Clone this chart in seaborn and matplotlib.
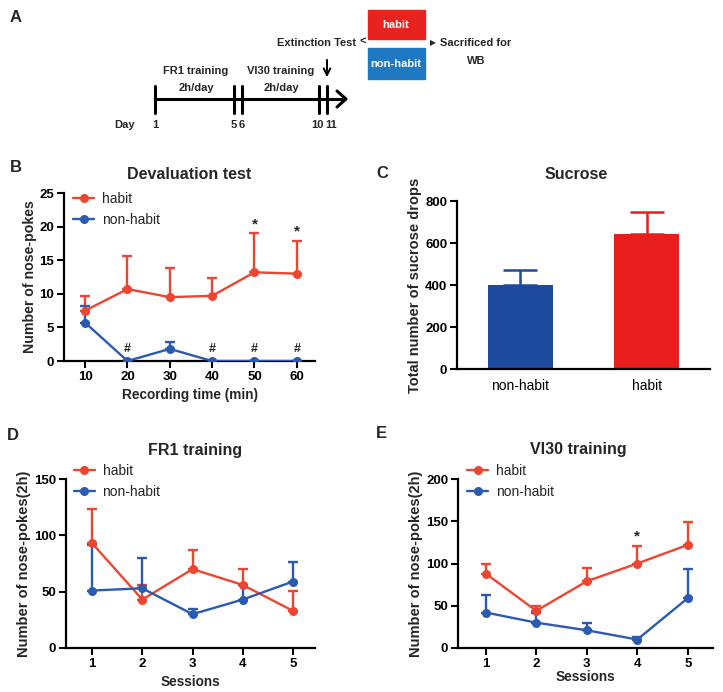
import numpy as np
import pandas as pd
import matplotlib
matplotlib.use('Agg')
import matplotlib.pyplot as plt
from matplotlib import font_manager
import seaborn as sns

# --- data ---
groups = ['habit', 'non-habit']

# B: devaluation test
rec_time = [10, 20, 30, 40, 50, 60]
dev_habit = [7.5, 10.7, 9.5, 9.7, 13.2, 13.0]
dev_habit_err = [2.2, 4.9, 4.3, 2.6, 5.8, 4.9]
dev_non = [5.7, 0.0, 1.8, 0.0, 0.0, 0.0]
dev_non_err = [2.5, 0.0, 1.1, 0.0, 0.0, 0.0]
dev_star = [50, 60]
dev_hash = [20, 40, 50, 60]

# C: sucrose
sucrose_groups = ['non-habit', 'habit']
sucrose_mean = [400, 642]
sucrose_err = [71, 108]

# D: FR1 training
sessions = [1, 2, 3, 4, 5]
fr1_habit = [93, 43, 70, 56, 33]
fr1_habit_err = [30, 13, 17, 14, 18]
fr1_non = [51, 53, 30, 43, 59]
fr1_non_err = [40, 27, 5, 13, 17]

# E: VI30 training
vi_habit = [88, 44, 79, 100, 122]
vi_habit_err = [11, 6, 16, 21, 27]
vi_non = [42, 30, 21, 10, 59]
vi_non_err = [21, 12, 8, 3, 34]
vi_star = [4]

# A: timeline
day_labels = ['1', '5', '6', '10', '11']
day_x = [155, 234, 242, 319, 327]

RED = '#EC4530'
BLUE = '#2A5BB0'
BAR_COLORS = ['#1E4A9E', '#E81D1D']

sns.set_theme(style='ticks')
plt.rcParams['font.family'] = ['Liberation Sans', 'DejaVu Sans']
plt.rcParams['font.weight'] = 'bold'
plt.rcParams['axes.labelweight'] = 'bold'
plt.rcParams['axes.titleweight'] = 'bold'

# narrow font for the schematic, if there is one
try:
    font_manager.findfont(font_manager.FontProperties(family='Liberation Sans Narrow'),
                          fallback_to_default=False)
    NARROW = ['Liberation Sans Narrow']
    A_FS = 8.8
except Exception:
    NARROW = ['Liberation Sans']
    A_FS = 8.0

W, H = 723, 692
fig = plt.figure(figsize=(W / 100, H / 100), dpi=100)


def box(l, r, t, b):
    return [l / W, 1 - b / H, (r - l) / W, (b - t) / H]


def style_axes(ax):
    sns.despine(ax=ax)
    for s in ['left', 'bottom']:
        ax.spines[s].set_linewidth(1.6)
        ax.spines[s].set_color('black')
    ax.tick_params(axis='both', length=5, width=1.5, labelsize=9.5, pad=2, colors='black')
    for lab in ax.get_xticklabels() + ax.get_yticklabels():
        lab.set_fontweight('bold')


def line_panel(ax, x, hab, hab_e, non, non_e, legend_anchor):
    df = pd.DataFrame({
        'x': list(x) * 2,
        'y': list(hab) + list(non),
        'group': ['habit'] * len(x) + ['non-habit'] * len(x),
    })
    # error bars first, one-sided upward
    ax.errorbar(x, hab, yerr=[np.zeros(len(x)), hab_e], fmt='none', ecolor=RED,
                elinewidth=1.7, capsize=3.5, capthick=1.7, zorder=2)
    ax.errorbar(x, non, yerr=[np.zeros(len(x)), non_e], fmt='none', ecolor=BLUE,
                elinewidth=1.7, capsize=3.5, capthick=1.7, zorder=2)
    sns.lineplot(data=df, x='x', y='y', hue='group', hue_order=groups,
                 palette=[RED, BLUE], marker='o', markersize=6.5, markeredgewidth=0,
                 linewidth=1.7, ax=ax, zorder=3)
    leg = ax.legend(loc='upper left', bbox_to_anchor=legend_anchor, frameon=False,
                    fontsize=10, handlelength=1.5, handletextpad=0.55,
                    borderaxespad=0, labelspacing=0.5)
    for t in leg.get_texts():
        t.set_fontweight('normal')
    ax.set_xlabel('')
    ax.set_ylabel('')


# ---- Panel A ----
axA = fig.add_axes([0, 1 - 140 / H, 1, 140 / H])
axA.set_xlim(0, W)
axA.set_ylim(140, 0)
axA.axis('off')
axA.text(10, 18, 'A', fontsize=12, fontweight='bold', va='center')
axA.plot([155, 343], [99, 99], color='black', lw=2.2, solid_capstyle='butt')
axA.plot([337, 346, 337], [91, 99, 107], color='black', lw=2.2)
for dx in day_x:
    axA.plot([dx, dx], [86, 113], color='black', lw=2.2)
for dx, dl in zip(day_x, day_labels):
    off = -2 if dl == '10' else (4 if dl == '11' else 0)
    axA.text(dx + off, 125, dl, fontsize=A_FS, fontweight='bold', ha='center', va='center',
             family=NARROW)
axA.text(125, 125, 'Day', fontsize=A_FS, fontweight='bold', ha='center', va='center', family=NARROW)
axA.text(196, 71, 'FR1 training', fontsize=A_FS, fontweight='bold', ha='center', va='center',
         family=NARROW)
axA.text(196, 88, '2h/day', fontsize=A_FS, fontweight='bold', ha='center', va='center', family=NARROW)
axA.text(281, 71, 'VI30 training', fontsize=A_FS, fontweight='bold', ha='center', va='center',
         family=NARROW)
axA.text(281, 88, '2h/day', fontsize=A_FS, fontweight='bold', ha='center', va='center', family=NARROW)
axA.annotate('', xy=(327, 80), xytext=(327, 57),
             arrowprops=dict(arrowstyle='->', color='black', lw=1.4))
axA.text(356, 43, 'Extinction Test', fontsize=A_FS, fontweight='bold', ha='right', va='center',
         family=NARROW)
axA.text(359, 42, '<', fontsize=A_FS, fontweight='bold', ha='left', va='center', family=NARROW)
axA.add_patch(plt.Rectangle((368, 10), 57, 29, color='#E8231F'))
axA.add_patch(plt.Rectangle((368, 48), 57, 31, color='#1F79C2'))
axA.text(396, 25, 'habit', color='white', fontsize=A_FS, fontweight='bold', ha='center',
         va='center', family=NARROW)
axA.text(396, 64, 'non-habit', color='white', fontsize=A_FS, fontweight='bold', ha='center',
         va='center', family=NARROW)
axA.text(430, 43, '\u25B6', fontsize=5.5, ha='left', va='center', family='DejaVu Sans')
axA.text(476, 43, 'Sacrificed for', fontsize=A_FS, fontweight='bold', ha='center', va='center',
         family=NARROW)
axA.text(476, 61, 'WB', fontsize=A_FS, fontweight='bold', ha='center', va='center', family=NARROW)

# ---- Panel B ----
axB = fig.add_axes(box(64, 315, 193, 361))
line_panel(axB, rec_time, dev_habit, dev_habit_err, dev_non, dev_non_err, (0.015, 1.04))
axB.set_xlim(5, 64.3)
axB.set_ylim(0, 25)
axB.set_xticks(rec_time)
axB.set_yticks([0, 5, 10, 15, 20, 25])
for xs in dev_star:
    i = rec_time.index(xs)
    axB.text(xs, dev_habit[i] + dev_habit_err[i] + 0.3, '*', fontsize=11, fontweight='bold',
             ha='center', va='bottom')
for xs in dev_hash:
    i = rec_time.index(xs)
    axB.text(xs, dev_non[i] + 0.9, '#', fontsize=9, fontweight='bold', ha='center', va='bottom')
axB.set_title('Devaluation test', fontsize=11.5, fontweight='bold', pad=10)
axB.set_xlabel('Recording time (min)', fontsize=9.8, fontweight='bold', labelpad=4)
axB.set_ylabel('Number of nose-pokes', fontsize=10.2, fontweight='bold', labelpad=2)
style_axes(axB)
fig.text(10 / W, 1 - 167 / H, 'B', fontsize=12, fontweight='bold', va='center')

# ---- Panel C ----
axC = fig.add_axes(box(457, 710, 201, 369))
dfc = pd.DataFrame({'group': sucrose_groups, 'value': sucrose_mean})
for i in range(len(sucrose_groups)):
    axC.errorbar([i], [sucrose_mean[i]], yerr=[[0], [sucrose_err[i]]], fmt='none',
                 ecolor=BAR_COLORS[i], elinewidth=1.8, capsize=12, capthick=1.8, zorder=1)
sns.barplot(data=dfc, x='group', y='value', hue='group', palette=BAR_COLORS, saturation=1,
            width=0.51, legend=False, linewidth=0, ax=axC, zorder=2)
axC.set_xlim(-0.5, 1.5)
axC.set_ylim(0, 800)
axC.set_yticks([0, 200, 400, 600, 800])
axC.set_title('Sucrose', fontsize=11.5, fontweight='bold', pad=16, x=0.47)
axC.set_xlabel('')
axC.set_ylabel('Total number of sucrose drops', fontsize=10.5, fontweight='bold', labelpad=2)
style_axes(axC)
axC.tick_params(axis='x', length=0, labelsize=10, pad=7)
for lab in axC.get_xticklabels():
    lab.set_fontweight('normal')
fig.text(376 / W, 1 - 173 / H, 'C', fontsize=12, fontweight='bold', va='center')

# ---- Panel D ----
axD = fig.add_axes(box(66, 315, 479, 648))
line_panel(axD, sessions, fr1_habit, fr1_habit_err, fr1_non, fr1_non_err, (0.01, 1.12))
axD.set_xlim(0.48, 5.44)
axD.set_ylim(0, 150)
axD.set_xticks(sessions)
axD.set_yticks([0, 50, 100, 150])
axD.set_title('FR1 training', fontsize=11.5, fontweight='bold', pad=17, x=0.518)
axD.set_xlabel('Sessions', fontsize=9.8, fontweight='bold', labelpad=4)
axD.set_ylabel('Number of nose-pokes(2h)', fontsize=10.5, fontweight='bold', labelpad=2)
style_axes(axD)
fig.text(7 / W, 1 - 435 / H, 'D', fontsize=12, fontweight='bold', va='center')

# ---- Panel E ----
axE = fig.add_axes(box(458, 713, 479, 648))
line_panel(axE, sessions, vi_habit, vi_habit_err, vi_non, vi_non_err, (0.015, 1.12))
axE.set_xlim(0.45, 5.5)
axE.set_ylim(0, 200)
axE.set_xticks(sessions)
axE.set_yticks([0, 50, 100, 150, 200])
for xs in vi_star:
    i = sessions.index(xs)
    axE.text(xs, vi_habit[i] + vi_habit_err[i] + 3, '*', fontsize=11, fontweight='bold',
             ha='center', va='bottom')
axE.set_title('VI30 training', fontsize=11.5, fontweight='bold', pad=18, x=0.473)
axE.set_xlabel('Sessions', fontsize=9.8, fontweight='bold', labelpad=0)
axE.set_ylabel('Number of nose-pokes(2h)', fontsize=10.5, fontweight='bold', labelpad=2)
style_axes(axE)
fig.text(376 / W, 1 - 433 / H, 'E', fontsize=12, fontweight='bold', va='center')

fig.savefig('out.png', dpi=100, facecolor='white')
